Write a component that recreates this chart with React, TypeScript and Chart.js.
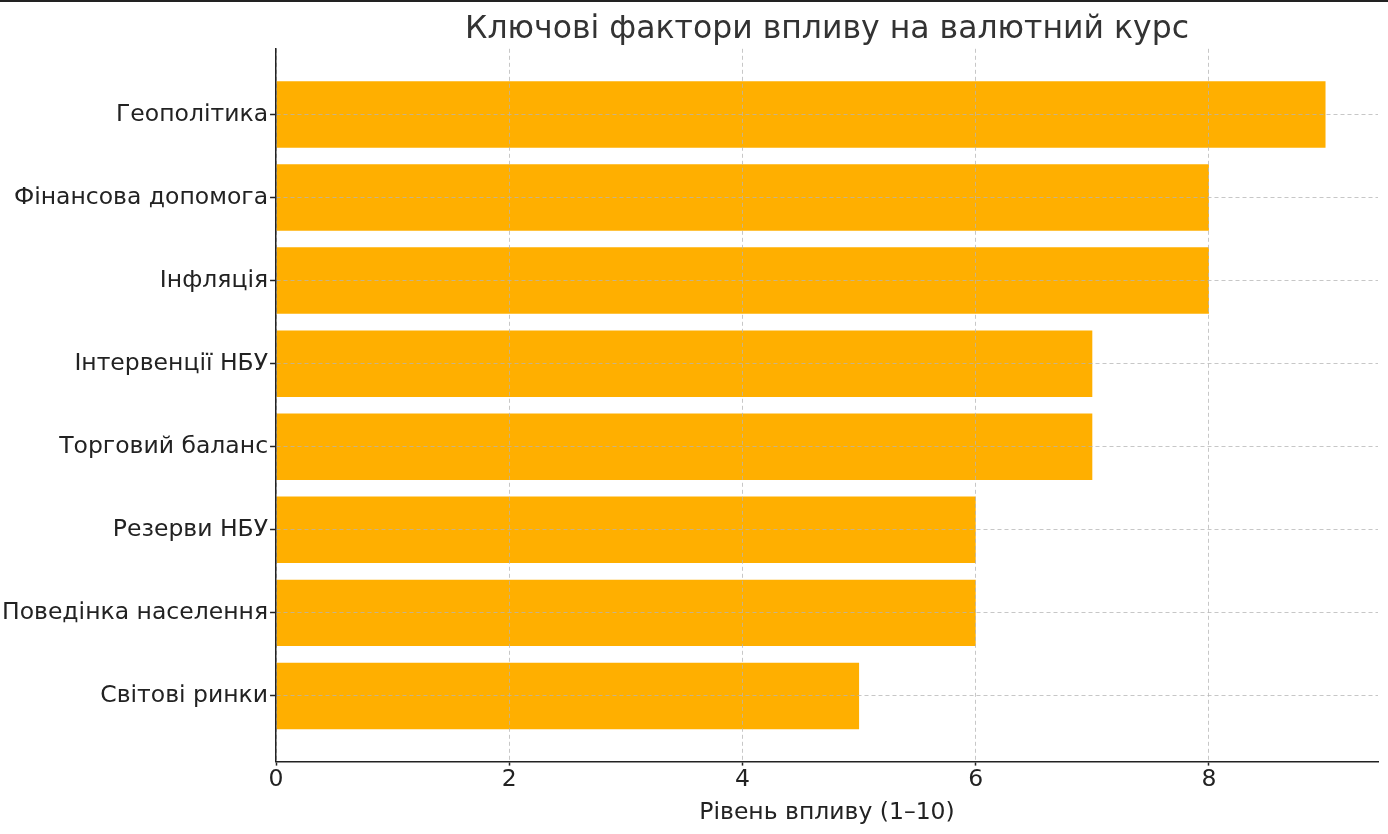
import React, { useEffect, useRef } from "react";
import { Chart, registerables } from "chart.js";

Chart.register(...registerables);

const categories: string[] = [
  "Геополітика",
  "Фінансова допомога",
  "Інфляція",
  "Інтервенції НБУ",
  "Торговий баланс",
  "Резерви НБУ",
  "Поведінка населення",
  "Світові ринки",
];
const impact: number[] = [9, 8, 8, 7, 7, 6, 6, 5];
const xTicks: number[] = [0, 2, 4, 6, 8];
const titleText = "Ключові фактори впливу на валютний курс";
const xTitle = "Рівень впливу (1–10)";

const FONT = "'DejaVu Sans', sans-serif";
const LABEL_SIZE = 23.5;

export default function App() {
  const ref = useRef<HTMLCanvasElement | null>(null);

  useEffect(() => {
    if (!ref.current) return;
    const data = impact.map((v, i) => ({ x: v, y: i }));
    const chart = new Chart(ref.current, {
      type: "bar",
      data: {
        datasets: [
          {
            data: data as any,
            backgroundColor: "#FFAF00",
            borderWidth: 0,
            barPercentage: 0.8,
            categoryPercentage: 1,
          },
        ],
      },
      options: {
        indexAxis: "y",
        animation: false,
        responsive: false,
        maintainAspectRatio: false,
        layout: { padding: { left: 0, right: 10, top: 0, bottom: 3 } },
        plugins: {
          legend: { display: false },
          tooltip: { enabled: false },
          title: {
            display: true,
            fullSize: false,
            text: titleText,
            color: "#333333",
            font: { family: FONT, size: 31.5, weight: "normal" },
            padding: { top: 11, bottom: 0 },
          },
        },
        scales: {
          x: {
            type: "linear",
            min: 0,
            max: 9.45,
            offset: false,
            afterBuildTicks: (scale: any) => {
              scale.ticks = xTicks.map((v) => ({ value: v }));
            },
            ticks: {
              color: "#222222",
              font: { family: FONT, size: LABEL_SIZE },
              padding: 0,
              callback: (v: any) => String(v),
            },
            grid: {
              z: 1,
              offset: false,
              color: "rgba(180,180,180,0.75)",
              lineWidth: 1,
              drawTicks: true,
              tickLength: 4,
              tickColor: "#222222",
              tickWidth: 1.5,
              tickBorderDash: [],
            },
            border: { display: true, z: 2, color: "#222222", width: 1.5, dash: [4, 3] },
            title: {
              display: true,
              text: xTitle,
              color: "#222222",
              font: { family: FONT, size: LABEL_SIZE },
              padding: { top: 5, bottom: 4 },
            },
          },
          y: {
            type: "linear",
            reverse: true,
            min: -0.79,
            max: 7.79,
            offset: false,
            afterBuildTicks: (scale: any) => {
              scale.ticks = categories.map((_, i) => ({ value: i }));
            },
            ticks: {
              color: "#222222",
              font: { family: FONT, size: LABEL_SIZE },
              padding: 2,
              autoSkip: false,
              callback: (v: any) => categories[Math.round(Number(v))] ?? "",
            },
            grid: {
              z: 1,
              offset: false,
              color: "rgba(180,180,180,0.75)",
              lineWidth: 1,
              drawTicks: true,
              tickLength: 6,
              tickColor: "#222222",
              tickWidth: 1.5,
              tickBorderDash: [],
            },
            border: { display: true, z: 2, color: "#222222", width: 1.5, dash: [4, 3] },
          },
        },
      } as any,
    });
    return () => chart.destroy();
  }, []);

  return (
    <div style={{ position: "fixed", left: 0, top: 0, width: 1388, height: 834, background: "#fff" }}>
      <canvas ref={ref} width={1388} height={834} style={{ display: "block", width: 1388, height: 834 }} />
      <div style={{ position: "absolute", left: 0, top: 0, width: 1388, height: 2, background: "#222" }} />
    </div>
  );
}
